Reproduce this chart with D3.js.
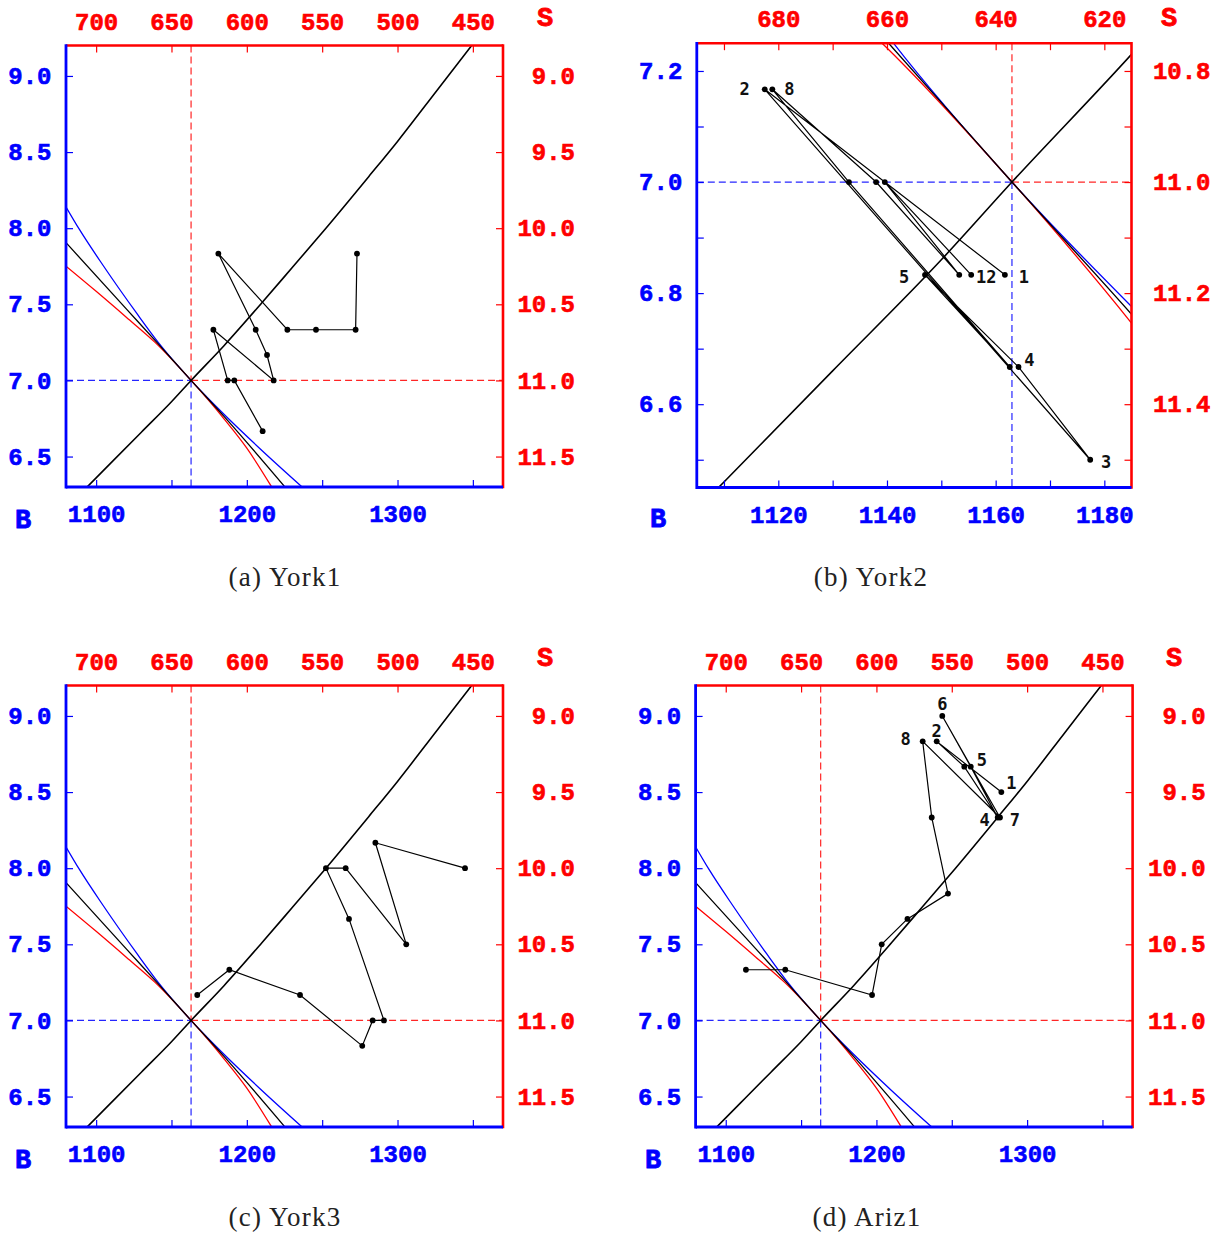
<!DOCTYPE html>
<html><head><meta charset="utf-8">
<script src="https://cdn.jsdelivr.net/npm/d3@7"></script>
<style>body{margin:0;background:#fff} svg{display:block}</style>
</head><body><svg id="c" width="1225" height="1234"></svg>
<script>
// ---------------- DATA ----------------
// reference point (dashed cross)
const eqB = 1163, eqP = 7.0;
// S = 1800 - B (top axis), right axis = 18 - P
const S_SUM = 1800, R_SUM = 18;

// increasing black curve
const upB = [1090, 1110, 1130, 1150, 1163, 1185, 1210, 1230, 1252.5, 1281, 1300, 1325, 1350];
const upP = [6.26, 6.46, 6.66, 6.86, 7.0, 7.23, 7.51, 7.74, 8.0, 8.34, 8.57, 8.89, 9.21];
// decreasing curves
const blueB = [1080, 1089, 1105, 1127, 1141.2, 1163, 1185, 1210, 1236.7];
const blueP = [8.14, 7.99, 7.75, 7.44, 7.25, 7.0, 6.776, 6.54, 6.3];
const blackB = [1080, 1120, 1140.3, 1163, 1185, 1225.3];
const blackP = [7.905, 7.47, 7.25, 7.0, 6.762, 6.3];
const redB = [1080, 1100, 1120, 1139.1, 1163, 1185, 1200, 1216.5];
const redP = [7.75, 7.585, 7.415, 7.25, 7.0, 6.746, 6.555, 6.3];

// session paths
const york1B = [1273.1, 1272.2, 1245.9, 1226.9, 1181.1, 1205.9, 1213.4, 1217.8, 1177.8, 1187.3, 1191.7, 1210.5];
const york1P = [7.833, 7.333, 7.333, 7.333, 7.833, 7.333, 7.167, 7.0, 7.333, 7.0, 7.0, 6.667];
const york2B = [1161.7, 1117.5, 1177.4, 1164.2, 1147.0, 1162.6, 1133.0, 1118.9, 1138.0, 1153.3, 1139.6, 1155.5];
const york2P = [6.833, 7.167, 6.5, 6.667, 6.833, 6.667, 7.0, 7.167, 7.0, 6.833, 7.0, 6.833];
const york3B = [1167.1, 1188.4, 1235.3, 1276.6, 1283.5, 1291.0, 1267.8, 1252.5, 1265.6, 1305.8, 1285.3, 1344.8];
const york3P = [7.167, 7.333, 7.167, 6.833, 7.0, 7.0, 7.667, 8.0, 8.0, 7.5, 8.167, 8.0];
const ariz1B = [1282.9, 1240.0, 1258.3, 1280.5, 1262.6, 1243.7, 1282.0, 1230.7, 1236.7, 1247.5, 1220.6, 1203.5, 1197.1, 1139.5, 1113.4];
const ariz1P = [8.5, 8.833, 8.667, 8.333, 8.667, 9.0, 8.333, 8.833, 8.333, 7.833, 7.667, 7.5, 7.167, 7.333, 7.333];

// labelled periods (1-based)
const york2Labels = ["1", "2", "3", "4", "5", "8", "12"];
const ariz1Labels = ["1", "2", "4", "5", "6", "7", "8"];

// axes ticks
const wideBTicks = [1100, 1150, 1200, 1250, 1300, 1350];
const wideBLabels = [1100, 1200, 1300];
const wideSTicks = [700, 650, 600, 550, 500, 450];
const widePTicks = [6.5, 7.0, 7.5, 8.0, 8.5, 9.0];
const wideRTicks = [9.0, 9.5, 10.0, 10.5, 11.0, 11.5];
const zoomBTicks = [1110, 1120, 1130, 1140, 1150, 1160, 1170, 1180];
const zoomBLabels = [1120, 1140, 1160, 1180];
const zoomSTicks = [690, 680, 670, 660, 650, 640, 630, 620];
const zoomSLabels = [680, 660, 640, 620];
const zoomPTicks = [6.5, 6.6, 6.7, 6.8, 6.9, 7.0, 7.1, 7.2];
const zoomPLabels = [6.6, 6.8, 7.0, 7.2];
const zoomRTicks = [10.8, 10.9, 11.0, 11.1, 11.2, 11.3, 11.4, 11.5];
const zoomRLabels = [10.8, 11.0, 11.2, 11.4];

const captions = ["(a) York1", "(b) York2", "(c) York3", "(d) Ariz1"];

// ---------------- LAYOUT / STYLE ----------------
const BLUE = "#0000ff", RED = "#ff0000";
const MONO = "'Liberation Mono', 'Courier New', monospace";
const svg = d3.select("#c");

const panels = [
  {id: "a", bDomain: [1080, 1370], pDomain: [6.3, 9.2], left: 66, top: 45.5, w: 437, h: 441.5,
   bTicks: wideBTicks, bLabels: wideBLabels, sTicks: wideSTicks, sLabels: wideSTicks,
   pTicks: widePTicks, pLabels: widePTicks, rTicks: wideRTicks, rLabels: wideRTicks,
   B: york1B, P: york1P, labels: [], rOff: 72, cap: captions[0], capX: 285, capY: 586,
   sPos: [545, 16], bPos: [23, 518]},
  {id: "b", bDomain: [1105, 1185], pDomain: [6.45, 7.25], left: 696.8, top: 43.2, w: 434.7, h: 444.3,
   bTicks: zoomBTicks, bLabels: zoomBLabels, sTicks: zoomSTicks, sLabels: zoomSLabels,
   pTicks: zoomPTicks, pLabels: zoomPLabels, rTicks: zoomRTicks, rLabels: zoomRLabels,
   B: york2B, P: york2P, labels: york2Labels, rOff: 79, cap: captions[1], capX: 871, capY: 586,
   sPos: [1169, 16], bPos: [658, 517],
   labelOff: {"1": [19, 2], "2": [-20, 0], "3": [16, 2], "4": [11, -7], "5": [-21, 2], "8": [17, 0], "12": [15, 2]}},
  {id: "c", bDomain: [1080, 1370], pDomain: [6.3, 9.2], left: 66, top: 685.5, w: 437, h: 441.5,
   bTicks: wideBTicks, bLabels: wideBLabels, sTicks: wideSTicks, sLabels: wideSTicks,
   pTicks: widePTicks, pLabels: widePTicks, rTicks: wideRTicks, rLabels: wideRTicks,
   B: york3B, P: york3P, labels: [], rOff: 72, cap: captions[2], capX: 285, capY: 1226,
   sPos: [545, 656], bPos: [23, 1158]},
  {id: "d", bDomain: [1080, 1370], pDomain: [6.3, 9.2], left: 695.6, top: 685.5, w: 437, h: 441.5,
   bTicks: wideBTicks, bLabels: wideBLabels, sTicks: wideSTicks, sLabels: wideSTicks,
   pTicks: widePTicks, pLabels: widePTicks, rTicks: wideRTicks, rLabels: wideRTicks,
   B: ariz1B, P: ariz1P, labels: ariz1Labels, rOff: 73, cap: captions[3], capX: 867, capY: 1226,
   sPos: [1174, 656], bPos: [653, 1158],
   labelOff: {"1": [10, -9], "2": [0, -10], "4": [-13, 2], "5": [11, -7], "6": [0, -12], "7": [15, 2], "8": [-17, -2]}}
];

const has = (arr, v) => arr.some(a => Math.abs(a - v) < 1e-6);

function styleAxis(sel, color) {
  sel.select(".domain").remove();
  sel.selectAll(".tick line").attr("stroke", color).attr("stroke-width", 1.2);
  sel.selectAll(".tick text").attr("fill", color).attr("font-family", MONO)
     .attr("font-weight", "bold").attr("font-size", 24)
     .attr("stroke", color).attr("stroke-width", 0.6);
}

panels.forEach(p => {
  const g = svg.append("g");
  const x = d3.scaleLinear().domain(p.bDomain).range([p.left, p.left + p.w]);
  const xs = d3.scaleLinear().domain(p.bDomain.map(b => S_SUM - b)).range([p.left, p.left + p.w]);
  const y = d3.scaleLinear().domain(p.pDomain).range([p.top + p.h, p.top]);
  const yr = d3.scaleLinear().domain(p.pDomain.map(v => R_SUM - v)).range([p.top + p.h, p.top]);

  const clipId = "clip-" + p.id;
  svg.append("defs").append("clipPath").attr("id", clipId)
    .append("rect").attr("x", p.left).attr("y", p.top).attr("width", p.w).attr("height", p.h);
  const plot = g.append("g").attr("clip-path", `url(#${clipId})`);

  // dashed cross
  const dash = "7,4";
  const dl = (x1, x2, y1, y2, c) => plot.append("line").attr("x1", x1).attr("x2", x2).attr("y1", y1).attr("y2", y2)
    .attr("stroke", c).attr("stroke-width", 1.2).attr("stroke-dasharray", dash).attr("opacity", 0.85);
  dl(x(eqB), x(eqB), p.top, y(eqP), RED);
  dl(x(eqB), x(eqB), y(eqP), p.top + p.h, BLUE);
  dl(p.left, x(eqB), y(eqP), y(eqP), BLUE);
  dl(x(eqB), p.left + p.w, y(eqP), y(eqP), RED);

  const curveLine = d3.line().x(d => x(d[0])).y(d => y(d[1])).curve(d3.curveMonotoneX);
  const zipc = (bs, ps) => bs.map((b, i) => [b, ps[i]]);
  plot.append("path").attr("d", curveLine(zipc(blueB, blueP))).attr("fill", "none").attr("stroke", BLUE).attr("stroke-width", 1.3);
  plot.append("path").attr("d", curveLine(zipc(redB, redP))).attr("fill", "none").attr("stroke", RED).attr("stroke-width", 1.3);
  plot.append("path").attr("d", curveLine(zipc(blackB, blackP))).attr("fill", "none").attr("stroke", "#000").attr("stroke-width", 1.3);
  plot.append("path").attr("d", curveLine(zipc(upB, upP))).attr("fill", "none").attr("stroke", "#000").attr("stroke-width", 1.6);

  // session path
  const pts = zipc(p.B, p.P);
  const pathLine = d3.line().x(d => x(d[0])).y(d => y(d[1]));
  plot.append("path").attr("d", pathLine(pts)).attr("fill", "none").attr("stroke", "#000").attr("stroke-width", 1.2);
  plot.selectAll("circle.pt").data(pts).join("circle").attr("class", "pt")
    .attr("cx", d => x(d[0])).attr("cy", d => y(d[1])).attr("r", 2.9).attr("fill", "#000");

  // period labels
  p.labels.forEach(lab => {
    const i = +lab - 1;
    const off = p.labelOff[lab];
    g.append("text").attr("x", x(p.B[i]) + off[0]).attr("y", y(p.P[i]) + off[1]).attr("dy", "0.36em")
      .attr("text-anchor", "middle").attr("font-family", "'DejaVu Sans Mono', monospace")
      .attr("font-weight", "bold").attr("font-size", 17).attr("fill", "#111").text(lab);
  });

  // axes
  const fmtP = d3.format(".1f");
  const ab = g.append("g").attr("transform", `translate(0,${p.top + p.h})`)
    .call(d3.axisBottom(x).tickValues(p.bTicks).tickSizeInner(-7).tickSizeOuter(0).tickPadding(18)
      .tickFormat(d => has(p.bLabels, d) ? d : ""));
  styleAxis(ab, BLUE);
  const at = g.append("g").attr("transform", `translate(0,${p.top})`)
    .call(d3.axisTop(xs).tickValues(p.sTicks).tickSizeInner(-7).tickSizeOuter(0).tickPadding(16)
      .tickFormat(d => has(p.sLabels, d) ? d : ""));
  styleAxis(at, RED);
  const al = g.append("g").attr("transform", `translate(${p.left},0)`)
    .call(d3.axisLeft(y).tickValues(p.pTicks).tickSizeInner(-7).tickSizeOuter(0).tickPadding(14.5)
      .tickFormat(d => has(p.pLabels, d) ? fmtP(d) : ""));
  styleAxis(al, BLUE);
  const ar = g.append("g").attr("transform", `translate(${p.left + p.w},0)`)
    .call(d3.axisRight(yr).tickValues(p.rTicks).tickSizeInner(-7).tickSizeOuter(0)
      .tickFormat(d => has(p.rLabels, d) ? fmtP(d) : ""));
  styleAxis(ar, RED);
  ar.selectAll(".tick text").attr("text-anchor", "end").attr("x", p.rOff);

  // frame
  const L = p.left, R = p.left + p.w, T = p.top, Bm = p.top + p.h;
  g.append("line").attr("x1", L).attr("x2", R).attr("y1", T).attr("y2", T).attr("stroke", RED).attr("stroke-width", 2.6);
  g.append("line").attr("x1", R).attr("x2", R).attr("y1", T - 1.3).attr("y2", Bm + 1.3).attr("stroke", RED).attr("stroke-width", 2.6);
  g.append("line").attr("x1", L).attr("x2", R).attr("y1", Bm).attr("y2", Bm).attr("stroke", BLUE).attr("stroke-width", 2.8);
  g.append("line").attr("x1", L).attr("x2", L).attr("y1", T - 1.3).attr("y2", Bm + 1.4).attr("stroke", BLUE).attr("stroke-width", 2.8);

  // axis names
  g.append("text").attr("x", p.sPos[0]).attr("y", p.sPos[1]).attr("dy", "0.36em").attr("text-anchor", "middle")
    .attr("font-family", MONO).attr("font-weight", "bold").attr("font-size", 27).attr("fill", RED)
    .attr("stroke", RED).attr("stroke-width", 0.8).text("S");
  g.append("text").attr("x", p.bPos[0]).attr("y", p.bPos[1]).attr("dy", "0.36em").attr("text-anchor", "middle")
    .attr("font-family", MONO).attr("font-weight", "bold").attr("font-size", 27).attr("fill", BLUE)
    .attr("stroke", BLUE).attr("stroke-width", 0.8).text("B");

  // caption
  g.append("text").attr("x", p.capX).attr("y", p.capY).attr("text-anchor", "middle")
    .attr("font-family", "'Liberation Serif', 'Times New Roman', serif").attr("font-size", 27)
    .attr("letter-spacing", 1.2).attr("fill", "#222").text(p.cap);
});
</script></body></html>
